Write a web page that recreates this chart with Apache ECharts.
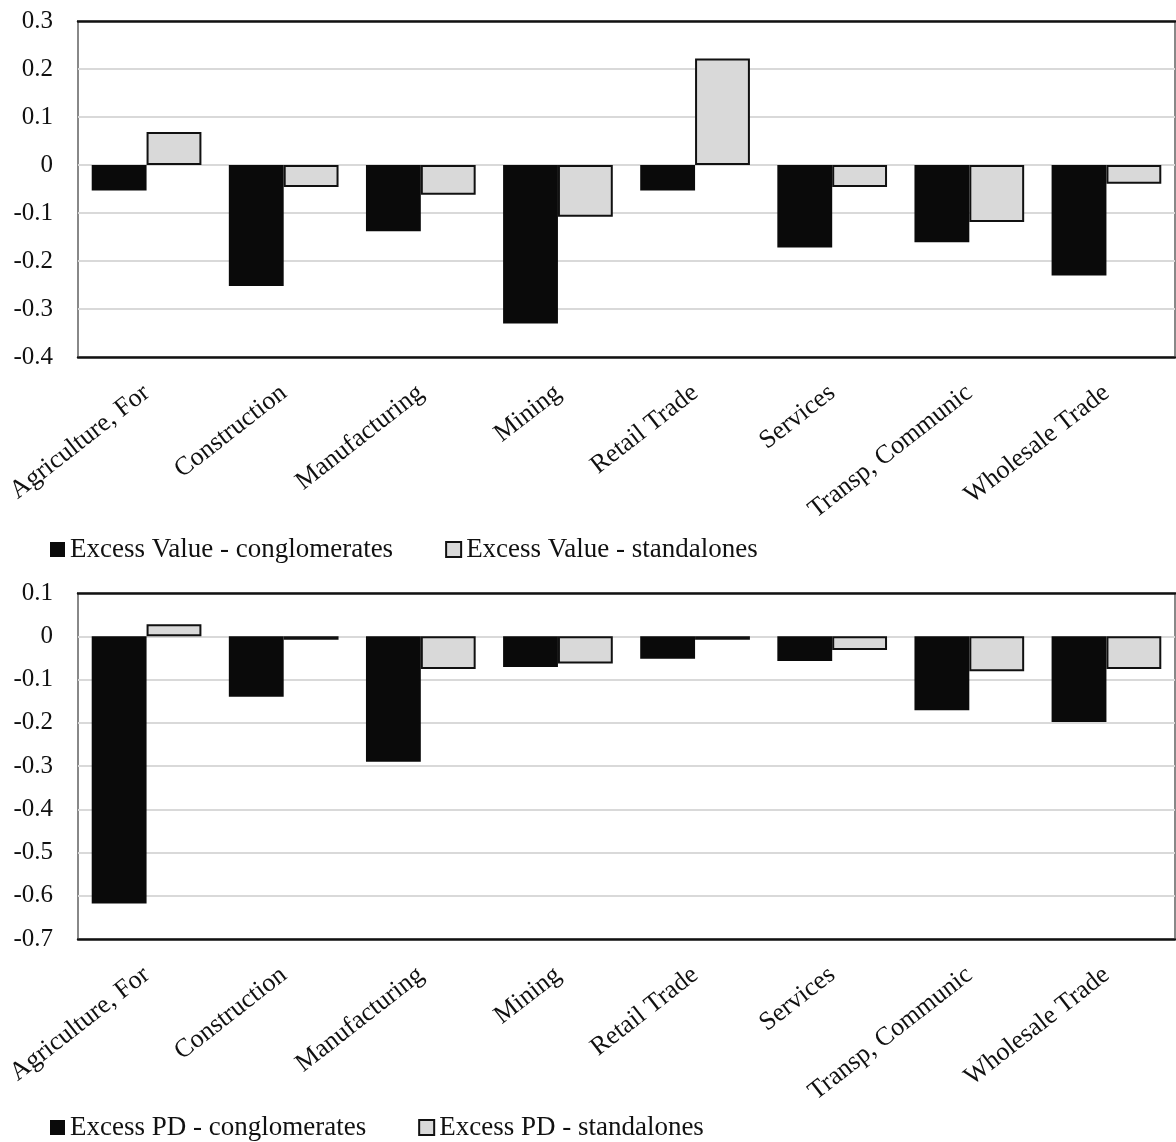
<!DOCTYPE html>
<html>
<head>
<meta charset="utf-8">
<script src="https://cdn.jsdelivr.net/npm/echarts@6/dist/echarts.min.js"></script>
<style>
  html, body { margin: 0; padding: 0; background: #fff; }
  #eChart { width: 1176px; height: 1142px; }
</style>
</head>
<body>
<div id="eChart"></div>
<script>
// categories shared by both panels
var industries = ['Agriculture, For', 'Construction', 'Manufacturing', 'Mining',
  'Retail Trade', 'Services', 'Transp, Communic', 'Wholesale Trade'];

// top panel: excess value
var evConglomerates = [-0.053, -0.252, -0.138, -0.33, -0.053, -0.172, -0.161, -0.23];
var evStandalones = [0.069, -0.046, -0.062, -0.108, 0.222, -0.046, -0.119, -0.039];

// bottom panel: excess PD
var pdConglomerates = [-0.618, -0.14, -0.29, -0.071, -0.052, -0.057, -0.171, -0.198];
var pdStandalones = [0.028, -0.008, -0.076, -0.063, -0.008, -0.032, -0.081, -0.076];

var serif = 'Liberation Serif';

function catAxis(gridIndex, pos) {
  var bottom = pos === 'bottom';
  return {
    type: 'category',
    gridIndex: gridIndex,
    position: pos,
    data: industries,
    axisLine: { show: true, onZero: false, lineStyle: { color: '#111', width: 2.5 } },
    axisTick: { show: false },
    axisLabel: bottom ? {
      show: true, interval: 0, rotate: 38, margin: 33,
      fontFamily: serif, fontSize: 26, color: '#111'
    } : { show: false },
    splitLine: { show: false }
  };
}

function valAxis(gridIndex, min, max) {
  return {
    type: 'value',
    gridIndex: gridIndex,
    min: min,
    max: max,
    interval: 0.1,
    axisLine: { show: false },
    axisTick: { show: false },
    axisLabel: {
      margin: 25, fontFamily: serif, fontSize: 25, color: '#111',
      formatter: function (v) { return String(+v.toFixed(1)); }
    },
    splitLine: { show: true, lineStyle: { color: '#d9d9d9', width: 2 } }
  };
}

var blackStyle = { color: '#0a0a0a' };
var greyStyle = { color: '#d9d9d9', borderColor: '#111', borderWidth: 2 };

function legendAt(names, top) {
  return {
    data: names.map(function (n) { return { name: n, icon: 'rect' }; }),
    left: 45, top: top, itemWidth: 15, itemHeight: 15, itemGap: 52,
    textStyle: { fontFamily: serif, fontSize: 27, color: '#111' }
  };
}

var option = {
  animation: false,
  backgroundColor: '#fff',
  grid: [
    { left: 78, right: 1, top: 21, height: 336, show: true, borderColor: '#888', borderWidth: 2 },
    { left: 78, right: 1, top: 593, height: 346, show: true, borderColor: '#888', borderWidth: 2 }
  ],
  legend: [
    legendAt(['Excess Value - conglomerates', 'Excess Value - standalones'], 531),
    legendAt(['Excess PD - conglomerates', 'Excess PD - standalones'], 1109)
  ],
  xAxis: [catAxis(0, 'bottom'), catAxis(0, 'top'), catAxis(1, 'bottom'), catAxis(1, 'top')],
  yAxis: [valAxis(0, -0.4, 0.3), valAxis(1, -0.7, 0.1)],
  series: [
    { name: 'Excess Value - conglomerates', type: 'bar', xAxisIndex: 0, yAxisIndex: 0,
      data: evConglomerates, barGap: '0%', barCategoryGap: '20%', itemStyle: blackStyle },
    { name: 'Excess Value - standalones', type: 'bar', xAxisIndex: 0, yAxisIndex: 0,
      data: evStandalones, barGap: '0%', barCategoryGap: '20%', itemStyle: greyStyle },
    { name: 'Excess PD - conglomerates', type: 'bar', xAxisIndex: 2, yAxisIndex: 1,
      data: pdConglomerates, barGap: '0%', barCategoryGap: '20%', itemStyle: blackStyle },
    { name: 'Excess PD - standalones', type: 'bar', xAxisIndex: 2, yAxisIndex: 1,
      data: pdStandalones, barGap: '0%', barCategoryGap: '20%', itemStyle: greyStyle }
  ]
};

var eChart = echarts.init(document.getElementById('eChart'));
eChart.setOption(option);
</script>
</body>
</html>
